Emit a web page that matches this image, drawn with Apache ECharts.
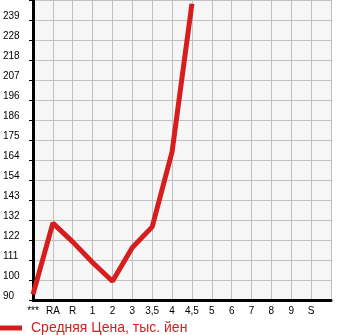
<!DOCTYPE html>
<html>
<head>
<meta charset="utf-8">
<script src="https://cdn.jsdelivr.net/npm/echarts@6/dist/echarts.min.js"></script>
<style>html,body{margin:0;padding:0;background:#fff;}#c{width:345px;height:335px;}</style>
</head>
<body>
<div id="c"></div>
<script>
const categories = ['***', 'RA', 'R', '1', '2', '3', '3,5', '4', '4,5', '5', '6', '7', '8', '9', 'S', ''];
const prices = [93, 131, 121, 110, 100, 118, 129, 169, 248, null, null, null, null, null, null, null];
const seriesName = 'Средняя Цена, тыс. йен';
const yMin = 90;
const yMax = 250;
const yStep = (yMax - yMin) / 15;

const chart = echarts.init(document.getElementById('c'), null, {renderer: 'canvas'});
chart.setOption({
  animation: false,
  backgroundColor: '#ffffff',
  textStyle: {fontFamily: 'Liberation Sans, Arial, sans-serif'},
  grid: {left: 31, right: 14, top: 0, bottom: 35, show: true, backgroundColor: '#f6f6f6', borderWidth: 0},
  legend: {
    left: 0, top: 321, padding: 0, icon: 'rect', itemWidth: 22, itemHeight: 5, itemGap: 10,
    data: [seriesName],
    textStyle: {color: '#d61e1f', fontSize: 14, padding: [0, 0, 0, 4], fontFamily: 'Liberation Sans, Arial, sans-serif'}
  },
  xAxis: {
    type: 'category', data: categories, boundaryGap: false,
    axisLine: {lineStyle: {color: '#000', width: 3}},
    axisTick: {show: false},
    axisLabel: {color: '#000', fontSize: 10, margin: 6, interval: 0},
    splitLine: {show: true, lineStyle: {color: '#c0c0c0', width: 1}}
  },
  yAxis: {
    type: 'value', min: yMin, max: yMax, interval: yStep,
    axisLine: {show: true, lineStyle: {color: '#000', width: 3}},
    axisTick: {show: true, length: 4, lineStyle: {color: '#000', width: 1}},
    axisLabel: {
      color: '#000', fontSize: 10, align: 'left', margin: 30, verticalAlign: 'bottom', lineHeight: 7,
      formatter: function (v) { return v > yMax - 1 ? '' : String(Math.floor(v + 1e-6)); }
    },
    splitLine: {show: true, lineStyle: {color: '#c0c0c0', width: 1}}
  },
  series: [{
    name: seriesName, type: 'line', data: prices, showSymbol: false, symbol: 'none',
    lineStyle: {color: '#d61e1f', width: 5}, itemStyle: {color: '#d61e1f'}
  }]
});
</script>
</body>
</html>
